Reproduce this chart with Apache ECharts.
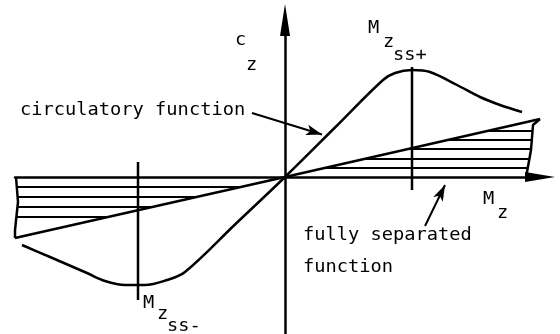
<!DOCTYPE html>
<html>
<head>
<meta charset="utf-8">
<script src="https://cdn.jsdelivr.net/npm/echarts@6/dist/echarts.min.js"></script>
<style>
  html, body { margin: 0; padding: 0; background: #fff; }
  #chart { width: 560px; height: 334px; }
</style>
</head>
<body>
<div id="chart"></div>
<script>
// Axis extents (M_z horizontally, c_z vertically), arbitrary schematic units
const xRange = [-2.70, 2.55];
const yRange = [-1.57, 1.57];

// Circulatory function: rises linearly through the origin, peaks near +/- M_z,ss
const circulatory = [
  [-2.63, -0.68], [-2.35, -0.80], [-1.98, -0.96], [-1.80, -1.04], [-1.60, -1.08],
  [-1.40, -1.08], [-1.18, -1.03], [-1.00, -0.95], [-0.50, -0.475], [0, 0],
  [0.50, 0.495], [0.98, 0.97], [1.10, 1.04], [1.27, 1.07], [1.45, 1.05],
  [1.72, 0.92], [1.95, 0.80], [2.15, 0.72], [2.37, 0.65]
];

// Fully separated function: straight line of small slope
const fullySeparated = [[-2.70, -0.61], [0, 0], [2.55, 0.58]];

// Outer edges of the shaded regions between the separated line and the M_z axis
const hatchEdgeLeft = [[-2.70, -0.61], [-2.70, -0.53], [-2.67, -0.25], [-2.69, 0]];
const hatchEdgeRight = [[2.55, 0.58], [2.48, 0.52], [2.46, 0.27], [2.42, 0.05], [2.42, 0]];
const hatchLevelsLeft = [-0.10, -0.20, -0.30, -0.40];
const hatchLevelsRight = [0.09, 0.18, 0.28, 0.37, 0.46];

// Vertical markers at the static-stall moments
const ssMinusMarker = [[-1.47, -1.23], [-1.47, 0.15]];
const ssPlusMarker = [[1.27, -0.13], [1.27, 1.10]];

// Leader arrows pointing from the labels to the curves
const circulatoryLeader = [[-0.33, 0.64], [0.37, 0.425]];
const separatedLeader = [[1.40, -0.49], [1.60, -0.08]];

// x position on a polyline at a given y (linear between vertices)
function xAtY(poly, y) {
  for (let i = 0; i < poly.length - 1; i++) {
    const a = poly[i], b = poly[i + 1];
    const lo = Math.min(a[1], b[1]), hi = Math.max(a[1], b[1]);
    if (y >= lo && y <= hi && a[1] !== b[1]) {
      return a[0] + (y - a[1]) * (b[0] - a[0]) / (b[1] - a[1]);
    }
  }
  return poly[poly.length - 1][0];
}

const ink = '#000';
function lineSeries(data, width, extra) {
  return Object.assign({
    type: 'line',
    data: data,
    showSymbol: false,
    symbol: 'none',
    silent: true,
    animation: false,
    lineStyle: { color: ink, width: width },
    z: 3
  }, extra || {});
}

const series = [];
series.push(lineSeries(circulatory, 2.5, {
  smooth: 0.35,
  markLine: {
    silent: true,
    animation: false,
    symbol: ['none', 'arrow'],
    symbolSize: [8, 16],
    label: { show: false },
    lineStyle: { color: ink, width: 2, type: 'solid' },
    data: [
      [{ coord: circulatoryLeader[0] }, { coord: circulatoryLeader[1] }],
      [{ coord: separatedLeader[0] }, { coord: separatedLeader[1] }]
    ]
  }
}));
series.push(lineSeries(fullySeparated, 2.5));
series.push(lineSeries(hatchEdgeLeft, 2.5));
series.push(lineSeries(hatchEdgeRight, 2.5));
hatchLevelsLeft.forEach(function (y) {
  series.push(lineSeries([[xAtY(hatchEdgeLeft, y), y], [xAtY(fullySeparated, y), y]], 2.2));
});
hatchLevelsRight.forEach(function (y) {
  series.push(lineSeries([[xAtY(fullySeparated, y), y], [xAtY(hatchEdgeRight, y), y]], 2.2));
});
series.push(lineSeries(ssMinusMarker, 2.5));
series.push(lineSeries(ssPlusMarker, 2.5));

const font = '17px "DejaVu Sans Mono", "Liberation Mono", monospace';
function label(text, x, y) {
  return {
    type: 'text',
    x: x, y: y,
    scaleX: 1.1,
    silent: true,
    z: 10,
    style: {
      text: text,
      font: font,
      fill: ink,
      align: 'left',
      verticalAlign: 'middle'
    }
  };
}

const chart = echarts.init(document.getElementById('chart'), null, { renderer: 'canvas' });
chart.setOption({
  backgroundColor: '#fff',
  animation: false,
  grid: { left: 15, right: 20, top: 20, bottom: 0, containLabel: false },
  xAxis: {
    type: 'value',
    min: xRange[0], max: xRange[1],
    axisLine: {
      show: true, onZero: true,
      symbol: ['none', 'triangle'],
      symbolSize: [10, 30],
      lineStyle: { color: ink, width: 2.5 }
    },
    axisTick: { show: false },
    axisLabel: { show: false },
    splitLine: { show: false }
  },
  yAxis: {
    type: 'value',
    min: yRange[0], max: yRange[1],
    axisLine: {
      show: true, onZero: true,
      symbol: ['none', 'triangle'],
      symbolSize: [10, 32],
      lineStyle: { color: ink, width: 2.5 }
    },
    axisTick: { show: false },
    axisLabel: { show: false },
    splitLine: { show: false }
  },
  series: series,
  graphic: [
    label('c', 235, 41),
    label('z', 246, 66),
    label('circulatory function', 20, 111),
    label('M', 368, 29),
    label('z', 383, 43),
    label('ss+', 393, 56),
    label('M', 143, 304),
    label('z', 157, 315),
    label('ss-', 167, 327),
    label('M', 483, 200),
    label('z', 497, 214),
    label('fully separated', 303, 236),
    label('function', 303, 268)
  ]
});
</script>
</body>
</html>
